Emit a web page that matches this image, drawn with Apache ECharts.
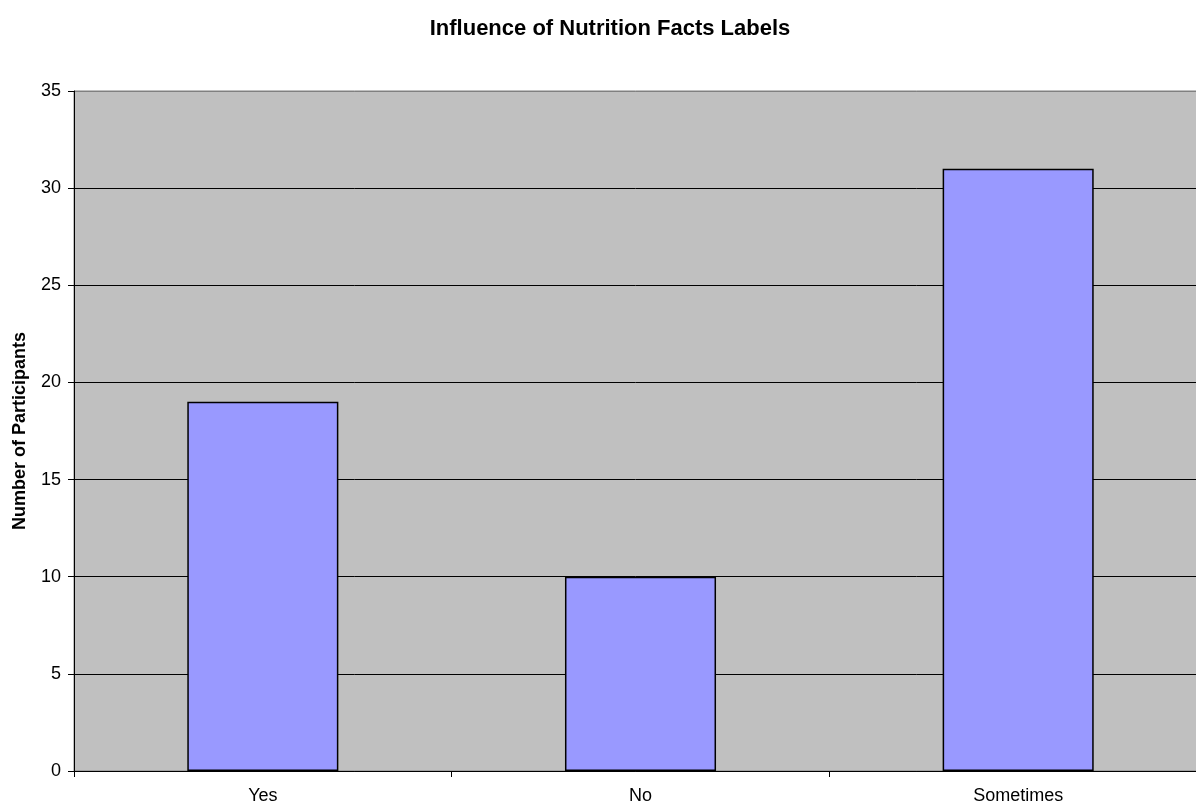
<!DOCTYPE html>
<html>
<head>
<meta charset="utf-8">
<script src="https://cdn.jsdelivr.net/npm/echarts@6/dist/echarts.min.js"></script>
<style>
html,body{margin:0;padding:0;background:#fff;overflow:hidden;}
#chart{width:1196px;height:808px;}
</style>
</head>
<body>
<div id="chart"></div>
<script>
const categories = ["Yes", "No", "Sometimes"];
const participants = [19, 10, 31];
const yTicks = [0, 5, 10, 15, 20, 25, 30, 35];

const FONT = 'Liberation Sans, Arial, sans-serif';
const chart = echarts.init(document.getElementById('chart'), null, {renderer: 'canvas'});
chart.setOption({
  animation: false,
  title: {
    text: 'Influence of Nutrition Facts Labels',
    left: 605, top: 13, textAlign: 'center',
    textStyle: {fontFamily: FONT, fontSize: 22, fontWeight: 'bold', color: '#000'}
  },
  grid: {
    left: 74, width: 1133, top: 91, bottom: 37,
    outerBoundsMode: 'none',
    containLabel: false,
    show: true, backgroundColor: '#c0c0c0', borderColor: '#808080', borderWidth: 1
  },
  xAxis: {
    type: 'category',
    data: categories,
    axisLine: {lineStyle: {color: '#000', width: 1}},
    axisTick: {show: true, alignWithLabel: false, length: 6, lineStyle: {color: '#000'}},
    axisLabel: {fontFamily: FONT, fontSize: 18, color: '#000', margin: 16},
    splitLine: {show: false}
  },
  yAxis: {
    type: 'value',
    min: yTicks[0], max: yTicks[yTicks.length - 1], interval: 5,
    name: 'Number of Participants',
    nameLocation: 'middle',
    nameGap: 45,
    nameTextStyle: {fontFamily: FONT, fontSize: 18, fontWeight: 'bold', color: '#000'},
    axisLine: {show: true, lineStyle: {color: '#000', width: 1}},
    axisTick: {show: true, length: 6, lineStyle: {color: '#000'}},
    axisLabel: {fontFamily: FONT, fontSize: 18, color: '#000', margin: 13},
    splitLine: {show: true, lineStyle: {color: ['#000','#000','#000','#000','#000','#000','#000','#808080'], width: 1}}
  },
  series: [{
    type: 'bar',
    data: participants,
    barWidth: '40%',
    itemStyle: {color: '#9999ff', borderColor: '#000', borderWidth: 1.5}
  }]
});
</script>
</body>
</html>
